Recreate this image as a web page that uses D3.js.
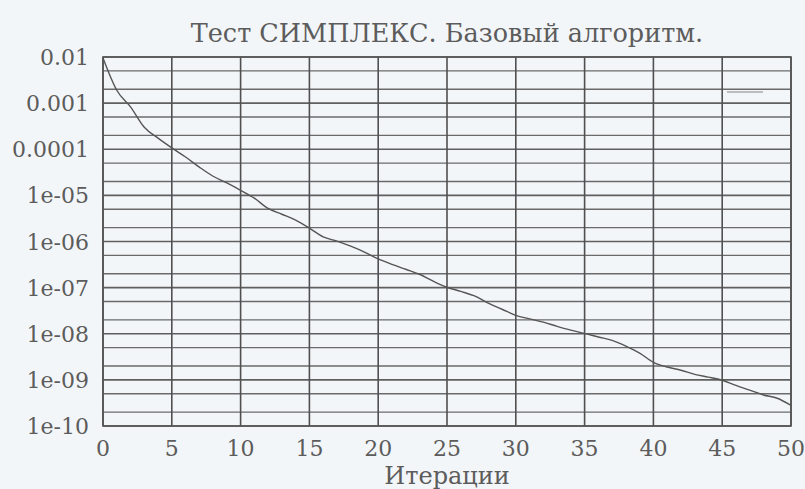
<!DOCTYPE html>
<html><head><meta charset="utf-8">
<script src="https://cdn.jsdelivr.net/npm/d3@7"></script>
<style>
html,body{margin:0;padding:0;background:#f3f6f8;}
svg{display:block;}
</style></head><body>
<svg id="c" width="805" height="489"></svg>
<script>
const title = "Тест СИМПЛЕКС. Базовый алгоритм.";
const xLabel = "Итерации";
const iterations = d3.range(0, 51);
const residual = [9.5e-3,1.9e-3,8.3e-4,3.0e-4,1.74e-4,1.07e-4,6.8e-5,4.1e-5,2.6e-5,1.86e-5,
  1.29e-5,8.7e-6,5.2e-6,3.9e-6,2.9e-6,1.95e-6,1.26e-6,1.02e-6,7.9e-7,5.9e-7,
  4.2e-7,3.2e-7,2.5e-7,1.95e-7,1.38e-7,1.02e-7,8.3e-8,6.6e-8,4.6e-8,3.4e-8,
  2.5e-8,2.1e-8,1.78e-8,1.45e-8,1.2e-8,1.02e-8,8.5e-9,7.2e-9,5.4e-9,3.8e-9,
  2.4e-9,1.9e-9,1.62e-9,1.32e-9,1.15e-9,9.8e-10,7.6e-10,6.0e-10,4.7e-10,4.0e-10,2.8e-10];
const xTicks = [0,5,10,15,20,25,30,35,40,45,50];
const yTicks = [1e-2,1e-3,1e-4,1e-5,1e-6,1e-7,1e-8,1e-9,1e-10];
const yTickLabels = ["0.01","0.001","0.0001","1e-05","1e-06","1e-07","1e-08","1e-09","1e-10"];
const yMinor = [];
yTicks.slice(0,-1).forEach(t => { yMinor.push(t/2, t/5); });

const FONT = "DejaVu Serif";
const TXT = "#5c5c5c";
const L=103, R=791, T=57, B=426;
const svg = d3.select("#c");
const x = d3.scaleLinear().domain([0,50]).range([L,R]);
const y = d3.scaleLog().domain([1e-10,1e-2]).range([B,T]);

// grid
const g = svg.append("g");
g.selectAll(".hm").data(yMinor).join("line")
  .attr("x1",L).attr("x2",R).attr("y1",d=>y(d)).attr("y2",d=>y(d))
  .attr("stroke","#6a6a6a").attr("stroke-width",1.4);
g.selectAll(".hM").data(yTicks).join("line")
  .attr("x1",L).attr("x2",R).attr("y1",d=>y(d)).attr("y2",d=>y(d))
  .attr("stroke","#5f5f5f").attr("stroke-width",1.6);
g.selectAll(".v").data(xTicks).join("line")
  .attr("x1",d=>x(d)).attr("x2",d=>x(d)).attr("y1",T).attr("y2",B)
  .attr("stroke","#505050").attr("stroke-width",1.6);
svg.append("rect").attr("x",L).attr("y",T).attr("width",R-L).attr("height",B-T)
  .attr("fill","none").attr("stroke","#555").attr("stroke-width",1.6);

// key sample
svg.append("line").attr("x1",727).attr("x2",763).attr("y1",92).attr("y2",92)
  .attr("stroke","#aaa").attr("stroke-width",1.5);

// curve
const line = d3.line().x((d,i)=>x(iterations[i])).y(d=>y(d)).curve(d3.curveMonotoneX);
svg.append("path").datum(residual).attr("d",line)
  .attr("fill","none").attr("stroke","#555").attr("stroke-width",1.4);

// tick labels
function txt(sel){ return sel.attr("font-family",FONT).attr("fill",TXT); }
txt(svg.selectAll(".yl").data(yTicks).join("text"))
  .attr("x",89).attr("y",d=>y(d)+8).attr("text-anchor","end")
  .attr("font-size",22).text((d,i)=>yTickLabels[i]);
txt(svg.selectAll(".xl").data(xTicks).join("text"))
  .attr("x",d=>x(d)).attr("y",456).attr("text-anchor","middle")
  .attr("font-size",22).text(d=>d);
txt(svg.append("text")).attr("x",447).attr("y",484).attr("text-anchor","middle")
  .attr("font-size",24).text(xLabel);
txt(svg.append("text")).attr("x",447).attr("y",42).attr("text-anchor","middle")
  .attr("font-size",25.5).text(title);
</script></body></html>
